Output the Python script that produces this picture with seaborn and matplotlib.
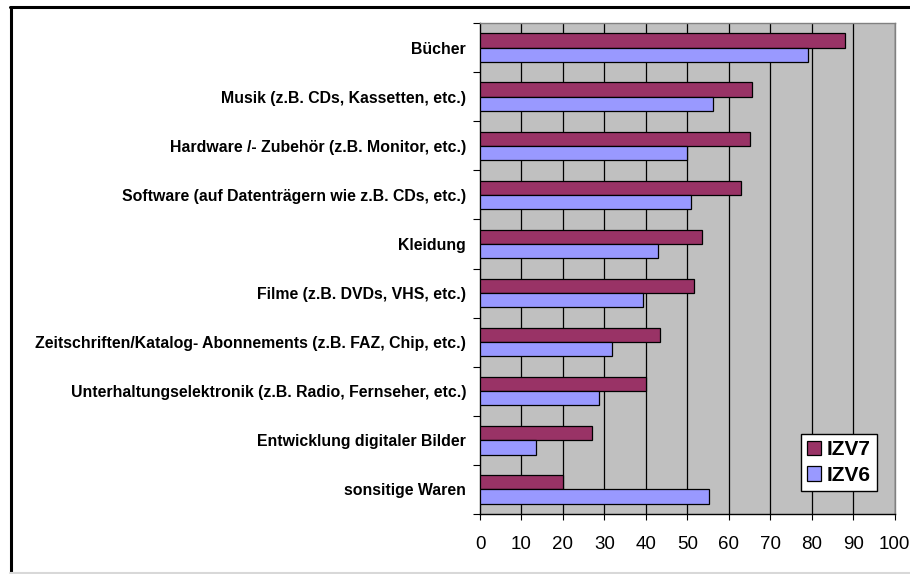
import matplotlib
matplotlib.use("Agg")
import matplotlib.pyplot as plt
import seaborn as sns
import pandas as pd
import numpy as np
from matplotlib.lines import Line2D

categories = [
    "Bücher",
    "Musik (z.B. CDs, Kassetten, etc.)",
    "Hardware /- Zubehör (z.B. Monitor, etc.)",
    "Software (auf Datenträgern wie z.B. CDs, etc.)",
    "Kleidung",
    "Filme (z.B. DVDs, VHS, etc.)",
    "Zeitschriften/Katalog- Abonnements (z.B. FAZ, Chip, etc.)",
    "Unterhaltungselektronik (z.B. Radio, Fernseher, etc.)",
    "Entwicklung digitaler Bilder",
    "sonsitige Waren",
]
izv7 = [88, 65.5, 65, 63, 53.5, 51.5, 43.5, 40, 27, 20]
izv6 = [79.2, 56.3, 49.8, 51, 43, 39.4, 31.8, 28.6, 13.4, 55.2]
series_names = ["IZV7", "IZV6"]
xticks = [0, 10, 20, 30, 40, 50, 60, 70, 80, 90, 100]

df = pd.DataFrame({
    "Kategorie": categories * 2,
    "Wert": izv7 + izv6,
    "Serie": [series_names[0]] * len(categories) + [series_names[1]] * len(categories),
})

sns.set_style("white")
plt.rcParams["font.family"] = ["Liberation Sans", "DejaVu Sans"]
plt.rcParams["text.color"] = "black"
plt.rcParams["xtick.color"] = "black"
plt.rcParams["ytick.color"] = "black"

fig = plt.figure(figsize=(9.1, 5.74), dpi=100)
ax = fig.add_axes([480 / 910, 1 - 514 / 574, 414.7 / 910, 491 / 574])
ax.set_facecolor("#C0C0C0")

sns.barplot(
    data=df, y="Kategorie", x="Wert", hue="Serie", order=categories,
    hue_order=series_names, palette={"IZV7": "#993366", "IZV6": "#9999FF"},
    orient="h", width=0.58, gap=0, edgecolor="black", linewidth=0.9,
    ax=ax, legend=True, zorder=3, saturation=1,
)

ax.set_xlim(0, 100)
ax.set_ylim(len(categories) - 0.5, -0.5)
ax.set_xticks(xticks)
ax.set_xticklabels([str(t) for t in xticks], fontsize=13.5, color="black")
ax.tick_params(axis="x", length=4, width=0.8, color="black", pad=12, direction="out", bottom=True)
for t in xticks[1:]:
    ax.axvline(t, color="black", lw=0.9, zorder=1)

# category boundary ticks (major), labels at centres (minor)
ax.set_yticks(np.arange(-0.5, len(categories) + 0.5, 1.0))
ax.set_yticklabels([])
ax.set_yticks(np.arange(len(categories)), minor=True)
ax.set_yticklabels(categories, minor=True, fontsize=11.4, fontweight="bold", color="black")
ax.tick_params(axis="y", which="major", length=5, width=0.8, color="black", left=True, direction="out")
ax.tick_params(axis="y", which="minor", length=0, pad=10)
ax.set_xlabel("")
ax.set_ylabel("")

for side in ["top", "right"]:
    ax.spines[side].set_color("#808080")
    ax.spines[side].set_linewidth(1.0)
for side in ["left", "bottom"]:
    ax.spines[side].set_color("black")
    ax.spines[side].set_linewidth(1.0)
    ax.spines[side].set_visible(True)

leg = ax.legend(
    loc="lower right", bbox_to_anchor=(0.957, 0.047),
    prop={"weight": "bold", "size": 15}, frameon=True, fancybox=False,
    edgecolor="black", facecolor="white", framealpha=1,
    handlelength=0.7, handleheight=0.7, handletextpad=0.25,
    labelspacing=0.3, borderpad=0.3, borderaxespad=0,
)
leg.get_frame().set_linewidth(1.0)
leg.set_zorder(5)
for txt in leg.get_texts():
    txt.set_color("black")

# outer chart frame
fig.add_artist(Line2D([10.5 / 910, 10.5 / 910], [0, 1 - 7 / 574], transform=fig.transFigure, color="black", lw=2.2))
fig.add_artist(Line2D([10 / 910, 1], [1 - 7 / 574, 1 - 7 / 574], transform=fig.transFigure, color="black", lw=2.2))
fig.add_artist(Line2D([10 / 910, 1], [1.5 / 574, 1.5 / 574], transform=fig.transFigure, color="#D8D8D8", lw=1.5))

fig.savefig("out.png", dpi=100)
